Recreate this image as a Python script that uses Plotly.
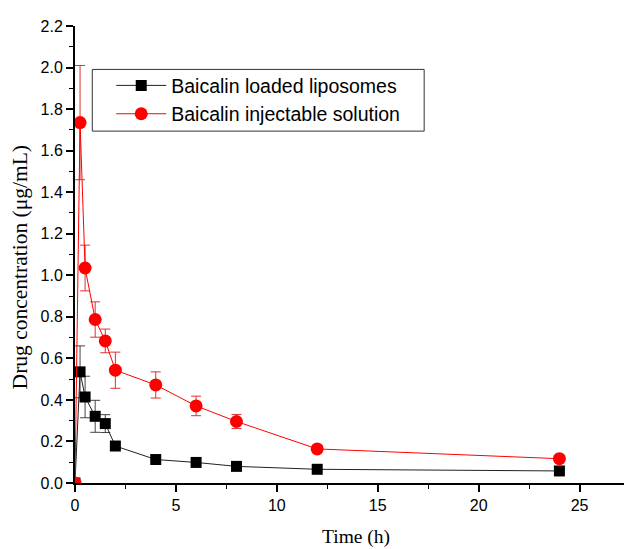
import plotly.graph_objects as go

time_h = [0, 0.25, 0.5, 1, 1.5, 2, 4, 6, 8, 12, 24]

lipo_conc = [0.0, 0.535, 0.414, 0.321, 0.286, 0.178, 0.113, 0.099, 0.080, 0.066, 0.058]
lipo_err = [0.0, 0.125, 0.10, 0.077, 0.043, 0.012, 0.010, 0.008, 0.008, 0.005, 0.005]

sol_conc = [0.0, 1.735, 1.035, 0.787, 0.684, 0.543, 0.472, 0.371, 0.296, 0.164, 0.117]
sol_err = [0.0, 0.275, 0.11, 0.085, 0.057, 0.087, 0.063, 0.047, 0.034, 0.015, 0.015]

series_names = ["Baicalin loaded liposomes", "Baicalin injectable solution"]
x_title = "Time (h)"
y_title = "Drug concentration (μg/mL)"

y_ticks = [0.0, 0.2, 0.4, 0.6, 0.8, 1.0, 1.2, 1.4, 1.6, 1.8, 2.0, 2.2]
x_ticks = [0, 5, 10, 15, 20, 25]

fig = go.Figure()

fig.add_trace(go.Scatter(
    x=time_h, y=lipo_conc, name=series_names[0], mode="lines+markers",
    line=dict(color="#222222", width=1),
    marker=dict(symbol="square", size=11, color="black"),
    error_y=dict(type="data", array=lipo_err, visible=True, color="#444444", thickness=1, width=5),
))
fig.add_trace(go.Scatter(
    x=time_h, y=sol_conc, name=series_names[1], mode="lines+markers",
    line=dict(color="red", width=1),
    marker=dict(symbol="circle", size=13, color="red"),
    error_y=dict(type="data", array=sol_err, visible=True, color="#e03030", thickness=1, width=5),
))

# legend frame drawn as a rectangle (legend itself is borderless, inside it)
fig.add_shape(type="rect", xref="paper", yref="paper",
              x0=0.0315, x1=0.636, y0=0.770, y1=0.905,
              line=dict(color="#333333", width=1), fillcolor="rgba(0,0,0,0)", layer="above")

serif = "Liberation Serif, Times New Roman"
fig.add_annotation(text=y_title, xref="paper", yref="paper", x=-0.1, y=0.472,
                   xanchor="center", yanchor="middle", textangle=-90, showarrow=False,
                   font=dict(family=serif, size=21.5, color="black"))
fig.add_annotation(text=x_title, xref="paper", yref="paper", x=0.512, y=-0.119,
                   xanchor="center", yanchor="middle", showarrow=False,
                   font=dict(family=serif, size=19.5, color="black"))

fig.update_layout(
    width=624, height=549,
    margin=dict(l=75, r=0, t=26, b=66),
    paper_bgcolor="white", plot_bgcolor="white",
    font=dict(family="Liberation Sans, Arial", color="black"),
    showlegend=True,
    legend=dict(
        x=0.066, y=0.912, xanchor="left", yanchor="top",
        borderwidth=0, bgcolor="rgba(0,0,0,0)",
        font=dict(family="Liberation Sans, Arial", size=19.5, color="black"),
        itemwidth=50, tracegroupgap=2,
    ),
    xaxis=dict(
        range=[0, 27.2], tickmode="array", tickvals=x_ticks,
        ticks="outside", ticklen=7, tickwidth=1.5, tickcolor="black",
        minor=dict(dtick=2.5, ticks="outside", ticklen=4, tickwidth=1.2, tickcolor="black", showgrid=False),
        showline=True, linecolor="black", linewidth=2, showgrid=False, zeroline=False,
        tickfont=dict(size=16, family="Liberation Sans, Arial"),
    ),
    yaxis=dict(
        range=[0, 2.2], tickmode="array", tickvals=y_ticks, tickformat=".1f",
        ticks="outside", ticklen=7, tickwidth=1.5, tickcolor="black",
        minor=dict(dtick=0.1, ticks="outside", ticklen=4, tickwidth=1.2, tickcolor="black", showgrid=False),
        showline=True, linecolor="black", linewidth=2, showgrid=False, zeroline=False,
        tickfont=dict(size=16, family="Liberation Sans, Arial"),
    ),
)

fig.write_html("out.html")
